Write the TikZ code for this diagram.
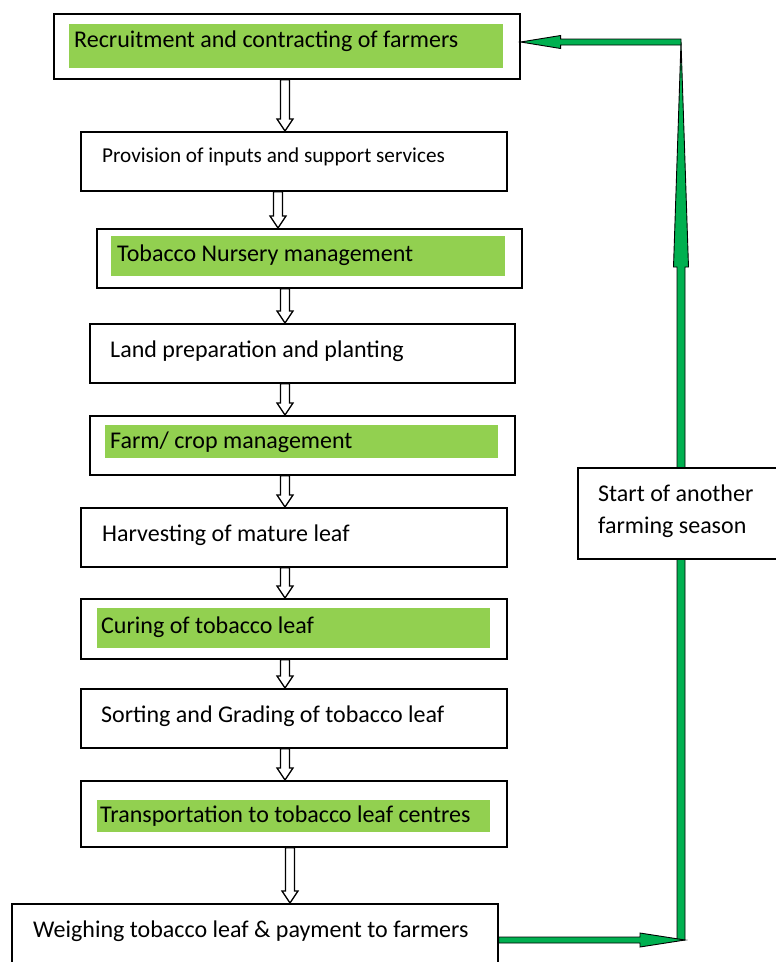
\documentclass[tikz,border=0pt]{standalone}
\usepackage{fontspec}
\setmainfont{Carlito}
\usetikzlibrary{calc}
\definecolor{lgreen}{RGB}{146,208,80}
\definecolor{dgreen}{RGB}{0,176,80}
\tikzset{
  box/.style={draw=black, line width=1.6pt, fill=white, inner sep=0pt, anchor=north west},
  lbl/.style={anchor=base west, inner sep=0pt, font=\fontsize{24}{29}\selectfont},
  slbl/.style={anchor=base west, inner sep=0pt, font=\fontsize{21.2}{25}\selectfont},
  hollow/.style={draw=black, line width=1.3pt, fill=white, line join=miter},
  garrow/.style={draw=black, line width=0.9pt, fill=dgreen, line join=miter}
}
\newcommand\harr[3]{\draw[hollow] let \p1=(#2.south), \p2=(#3.north) in
  (#1pt-4.5pt,\y1) -- (#1pt-4.5pt,\y2+12pt) -- (#1pt-8pt,\y2+12pt) -- (#1pt,\y2)
  -- (#1pt+8pt,\y2+12pt) -- (#1pt+4.5pt,\y2+12pt) -- (#1pt+4.5pt,\y1) -- cycle;}
\begin{document}
\begin{tikzpicture}[x=1pt,y=-1pt]
\useasboundingbox (0,0) rectangle (776,962);
% main boxes
\node[box, minimum width=466pt, minimum height=65pt] (b1) at (53,13) {};
\fill[lgreen] (69,24) rectangle (503,68);
\node[lbl] (t1) at (74,47) {Recruitment and contracting of farmers};

\node[box, minimum width=426pt, minimum height=59pt] (b2) at (80,131) {};
\node[slbl] (t2) at (102,162) {Provision of inputs and support services};

\node[box, minimum width=425pt, minimum height=59pt] (b3) at (96,228) {};
\fill[lgreen] (111,236) rectangle (505,276);
\node[lbl] (t3) at (117,261) {Tobacco Nursery management};

\node[box, minimum width=425pt, minimum height=59pt] (b4) at (89,323) {};
\node[lbl] (t4) at (110,357) {Land preparation and planting};

\node[box, minimum width=425pt, minimum height=59pt] (b5) at (89,415) {};
\fill[lgreen] (105,425) rectangle (498,458);
\node[lbl] (t5) at (110,448) {Farm/ crop management};

\node[box, minimum width=426pt, minimum height=59pt] (b6) at (80,507) {};
\node[lbl] (t6) at (102,541) {Harvesting of mature leaf};

\node[box, minimum width=426pt, minimum height=60pt] (b7) at (80,598) {};
\fill[lgreen] (97,608) rectangle (490,648);
\node[lbl] (t7) at (101,633) {Curing of tobacco leaf};

\node[box, minimum width=426pt, minimum height=59pt] (b8) at (80,688) {};
\node[lbl] (t8) at (101,722) {Sorting and Grading of tobacco leaf};

\node[box, minimum width=426pt, minimum height=66pt] (b9) at (80,780) {};
\fill[lgreen] (97,800) rectangle (490,832);
\node[lbl] (t9) at (100,822) {Transportation to tobacco leaf centres};

\node[box, minimum width=486pt, minimum height=74pt] (b10) at (11,903) {};
\node[lbl] (t10) at (33,937) {Weighing tobacco leaf \& payment to farmers};

% hollow arrows
\harr{285}{b1}{b2}
\harr{278}{b2}{b3}
\harr{285}{b3}{b4}
\harr{285}{b4}{b5}
\harr{285}{b5}{b6}
\harr{285}{b6}{b7}
\harr{285}{b7}{b8}
\harr{285}{b8}{b9}
\harr{290}{b9}{b10}

% return loop
\coordinate (c1) at (685,940);
\coordinate (c2) at (681,42);
\draw[garrow] let \p1=(c1), \p2=(c2) in
  (\x2-4pt,\y1) -- (\x2-4pt,\y2-225pt) -- (\x2-7.5pt,\y2-225pt) -- (\x2,\y2)
  -- (\x2+7.5pt,\y2-225pt) -- (\x2+4pt,\y2-225pt) -- (\x2+4pt,\y1) -- cycle;
\node[box, minimum width=213pt, minimum height=91pt] (s) at (577,467) {};
\node[lbl, align=left, anchor=base west, font=\fontsize{24}{32}\selectfont] (ts) at (598,533) {Start of another\\farming season};
\draw[garrow] let \p1=(b10.east), \p2=(c1) in
  (\x1,\y2+3pt) -- (\x2-45pt,\y2+3pt) -- (\x2-45pt,\y2+7pt) -- (\x2,\y2)
  -- (\x2-45pt,\y2-7pt) -- (\x2-45pt,\y2-3pt) -- (\x1,\y2-3pt) -- cycle;
\draw[garrow] let \p1=(c2), \p2=(b1.east) in
  (\x1,\y1+3pt) -- (\x2+40pt,\y1+3pt) -- (\x2+40pt,\y1+6.5pt) -- (\x2,\y1)
  -- (\x2+40pt,\y1-6.5pt) -- (\x2+40pt,\y1-3pt) -- (\x1,\y1-3pt) -- cycle;
\end{tikzpicture}
\end{document}
